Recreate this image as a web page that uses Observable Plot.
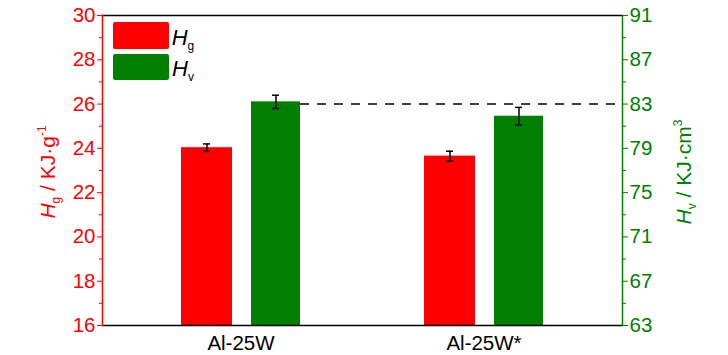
<!DOCTYPE html>
<html><head><meta charset="utf-8">
<script src="https://cdn.jsdelivr.net/npm/d3@7"></script>
<script src="https://cdn.jsdelivr.net/npm/@observablehq/plot@0.6"></script>
<style>body{margin:0;background:#fff} svg{display:block}</style>
</head><body><div id="chart"></div>
<script>
const categories = ["Al-25W", "Al-25W*"];
const hgValues = [24.03, 23.65];
const hgErrors = [0.17, 0.22];
const hvValues = [83.2, 81.9];
const hvErrors = [0.6, 0.8];
const hvReference = 83;
const leftTicks = [16, 18, 20, 22, 24, 26, 28, 30];
const leftMinorTicks = [17, 19, 21, 23, 25, 27, 29];
const rightTicks = [63, 67, 71, 75, 79, 83, 87, 91];
const rightMinorTicks = [65, 69, 73, 77, 81, 85, 89];

const RED = "#ff0000", GREEN = "#008000";
const FONT = "Liberation Sans, Arial, sans-serif";
const yMin = leftTicks[0], yMax = leftTicks[leftTicks.length - 1];
const rMin = rightTicks[0], rMax = rightTicks[rightTicks.length - 1];
const toLeft = v => yMin + (v - rMin) * (yMax - yMin) / (rMax - rMin);
const fromLeft = d => Math.round(rMin + (d - yMin) * (rMax - rMin) / (yMax - yMin));

const hg = categories.map((c, i) => ({cat: c, v: hgValues[i], lo: hgValues[i] - hgErrors[i], hi: hgValues[i] + hgErrors[i]}));
const hv = categories.map((c, i) => ({cat: c, v: toLeft(hvValues[i]), lo: toLeft(hvValues[i] - hvErrors[i]), hi: toLeft(hvValues[i] + hvErrors[i])}));

const chart = Plot.plot({
  width: 728, height: 355,
  marginLeft: 102, marginRight: 106, marginTop: 15, marginBottom: 30,
  style: {fontFamily: FONT, background: "white"},
  x: {type: "band", domain: categories, paddingInner: 0, paddingOuter: 0.0656, align: 0.5},
  y: {domain: [yMin, yMax]},
  marks: [
    Plot.barY(hg, {x: "cat", y1: yMin, y2: "v", fill: RED, insetLeft: 62, insetRight: 130}),
    Plot.barY(hv, {x: "cat", y1: yMin, y2: "v", fill: GREEN, insetLeft: 132, insetRight: 62}),
    Plot.ruleY([toLeft(hvReference)], {stroke: "black", strokeWidth: 1.5, strokeDasharray: "9,8", insetLeft: 198}),
    Plot.ruleX(hg, {x: "cat", y1: "lo", y2: "hi", dx: -34, stroke: "black", strokeWidth: 1.5}),
    Plot.tickY(hg, {x: "cat", y: "lo", insetLeft: 84, insetRight: 152, stroke: "black", strokeWidth: 1.5}),
    Plot.tickY(hg, {x: "cat", y: "hi", insetLeft: 84, insetRight: 152, stroke: "black", strokeWidth: 1.5}),
    Plot.ruleX(hv, {x: "cat", y1: "lo", y2: "hi", dx: 35, stroke: "black", strokeWidth: 1.5}),
    Plot.tickY(hv, {x: "cat", y: "lo", insetLeft: 153, insetRight: 83, stroke: "black", strokeWidth: 1.5}),
    Plot.tickY(hv, {x: "cat", y: "hi", insetLeft: 153, insetRight: 83, stroke: "black", strokeWidth: 1.5}),
    Plot.ruleY([yMin, yMax], {stroke: "black", strokeWidth: 1.5}),
    Plot.frame({anchor: "left", stroke: RED, strokeWidth: 1.5}),
    Plot.frame({anchor: "right", stroke: GREEN, strokeWidth: 1.5}),
    Plot.axisY(leftTicks, {anchor: "left", color: RED, tickSize: 5, tickPadding: 2, fontSize: 20.5, label: null}),
    Plot.axisY(leftMinorTicks, {anchor: "left", color: RED, tickSize: 3, tickFormat: () => "", label: null}),
    Plot.axisY(rightTicks.map(toLeft), {anchor: "right", color: GREEN, tickSize: 5, tickPadding: 2, fontSize: 20.5, tickFormat: fromLeft, label: null}),
    Plot.axisY(rightMinorTicks.map(toLeft), {anchor: "right", color: GREEN, tickSize: 3, tickFormat: () => "", label: null}),
    Plot.axisX({tickSize: 0, tickPadding: 10, fontSize: 20.5, color: "black", label: null})
  ]
});
document.getElementById("chart").appendChild(chart);

const svg = d3.select(chart);
function rich(g, parts, size) {
  const t = g.append("text").attr("font-family", FONT).attr("font-size", size);
  let shift = 0;
  for (const p of parts) {
    const target = p.sub ? 5 : p.sup ? -9 : 0;
    t.append("tspan").text(p.t)
      .attr("font-style", p.it ? "italic" : null)
      .attr("font-size", p.sub || p.sup ? 12 : null)
      .attr("dy", target - shift);
    shift = target;
  }
  return t;
}
// axis titles
rich(svg.append("g").attr("transform", "translate(55,172) rotate(-90)").attr("fill", RED),
  [{t: "H", it: true}, {t: "g", sub: true}, {t: " / KJ·g"}, {t: "-1", sup: true}], 21).attr("text-anchor", "middle");
rich(svg.append("g").attr("transform", "translate(691,172) rotate(-90)").attr("fill", GREEN),
  [{t: "H", it: true}, {t: "v", sub: true}, {t: " / KJ·cm"}, {t: "3", sup: true}], 21).attr("text-anchor", "middle");
// legend
const leg = svg.append("g");
[[RED, 22, 27, 45, "g"], [GREEN, 54, 26, 76, "v"]].forEach(([c, y, h, by, s]) => {
  leg.append("rect").attr("x", 113).attr("y", y).attr("width", 56).attr("height", h).attr("rx", 2).attr("fill", c);
  rich(leg.append("g").attr("transform", `translate(183,${by})`).attr("fill", "black"),
    [{t: "H", it: true}, {t: s, sub: true}], 22);
});
</script></body></html>
